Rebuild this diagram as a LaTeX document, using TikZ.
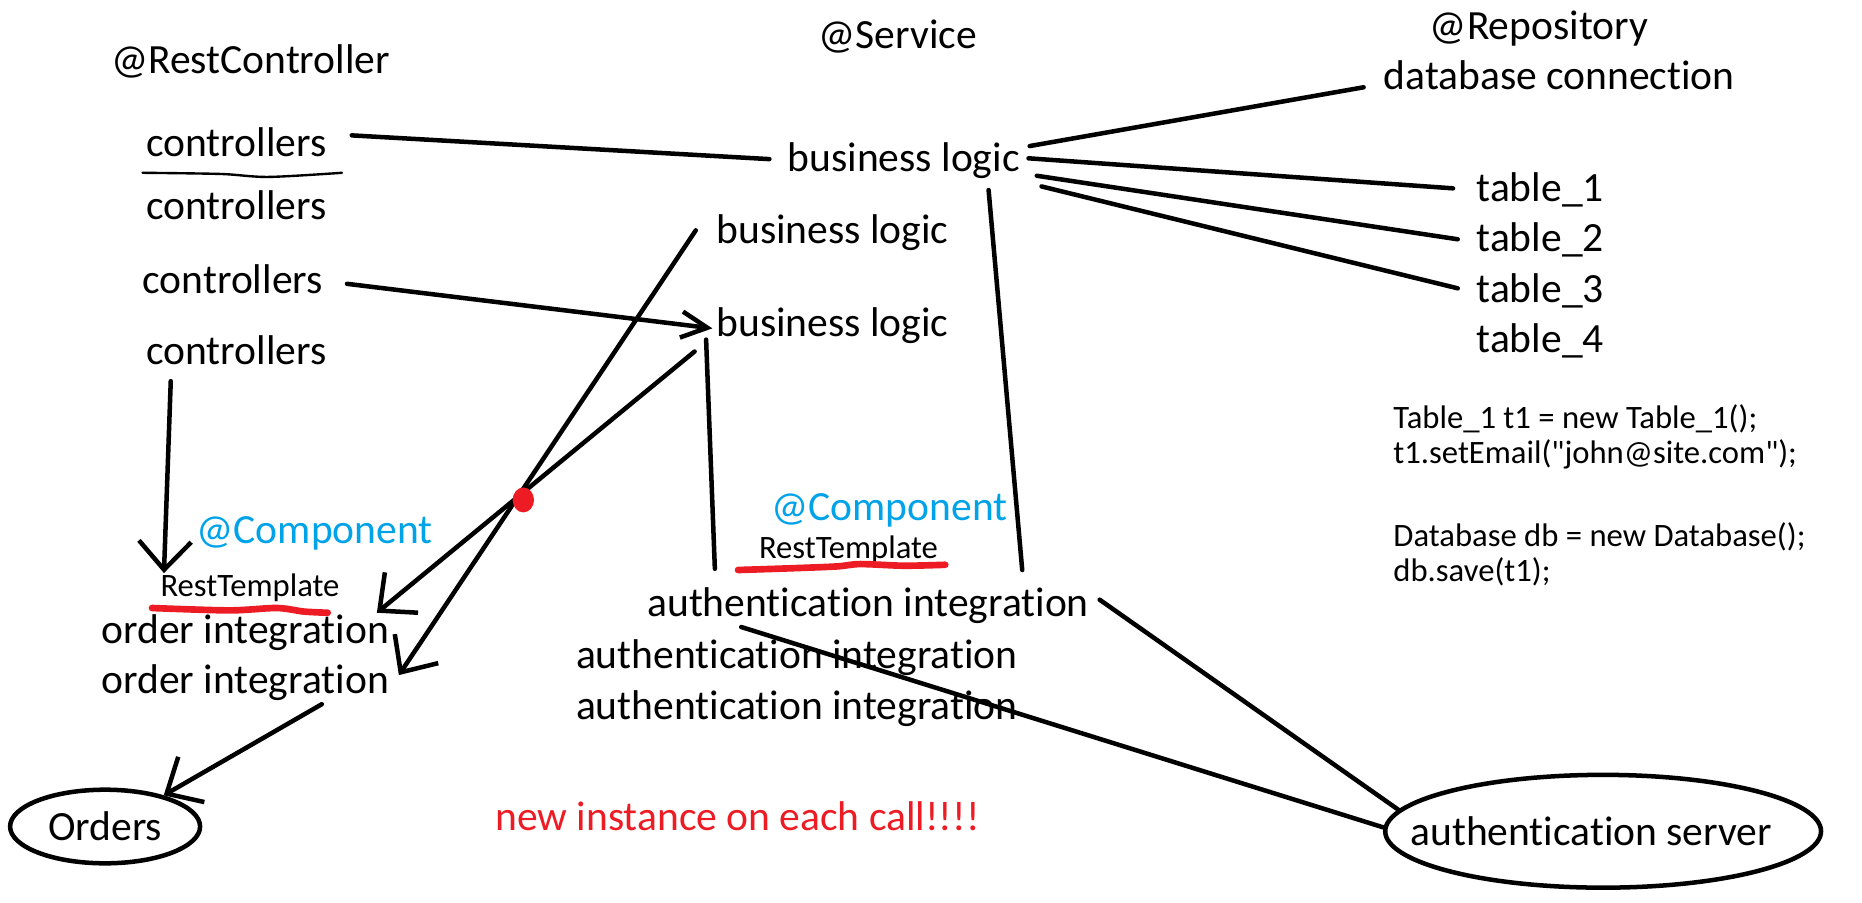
\documentclass[tikz,border=0pt]{standalone}
\usepackage{fontspec}
\setmainfont{Carlito}[Ligatures=NoCommon]
\newfontfamily\codefont{Carlito}[Ligatures=NoCommon]
\usetikzlibrary{arrows.meta,shapes.geometric}
\definecolor{paintred}{RGB}{237,28,36}
\definecolor{paintblue}{RGB}{0,162,232}

\begin{document}
\begin{tikzpicture}[x=0.5pt, y=-0.5pt, >={Straight Barb[length=11pt,width=11pt]},
    lbl/.style={inner sep=0pt, anchor=base, font=\fontsize{17.5}{21}\selectfont},
    small/.style={inner sep=0pt, anchor=base, font=\codefont\fontsize{13.75}{16}\selectfont},
    code/.style={small, anchor=base west},
    note/.style={lbl, text=paintblue},
    db/.style={draw, ellipse, line width=1.9pt, inner sep=0pt, font=\fontsize{17.5}{21}\selectfont},
    wire/.style={line width=1.9pt, line cap=round},
    sketch/.style={wire, -{Straight Barb[length=12pt,width=22pt]}},
    redmark/.style={paintred, line width=2.8pt, line cap=round}]
  \useasboundingbox (0,0) rectangle (1568,760);

  % headers
  \node[lbl] (restctl) at (211,62) {@RestController};
  \node[lbl] (service) at (756,41) {@Service};
  \node[lbl] (repo) at (1296,33) {@Repository};
  \node[lbl] (dbconn) at (1313,75) {database connection};

  % controllers
  \node[lbl] (ctrlA) at (199,132) {controllers};
  \node[lbl] (ctrlB) at (199,185) {controllers};
  \node[lbl] (ctrlC) at (196,247) {controllers};
  \node[lbl] (ctrlD) at (199,307) {controllers};
  \draw[line width=1pt, line cap=round] plot[smooth] coordinates {(120,145.5) (186,146.5) (226,149) (288,145.5)};

  % services
  \node[lbl] (logicA) at (761,144) {business logic};
  \node[lbl] (logicB) at (701,205) {business logic};
  \node[lbl] (logicC) at (701,283.5) {business logic};

  % tables
  \node[lbl] (tableA) at (1297,170) {table\_1};
  \node[lbl] (tableB) at (1297,212) {table\_2};
  \node[lbl] (tableC) at (1297,255) {table\_3};
  \node[lbl] (tableD) at (1297,297) {table\_4};

  \node[code] (codeA) at (1173,360.5) {Table\_1 t1 = new Table\_1();};
  \node[code] (codeB) at (1173,390) {t1.setEmail("john@site.com");};
  \node[code] (codeC) at (1173,460.5) {Database db = new Database();};
  \node[code] (codeD) at (1173,490) {db.save(t1);};

  % components
  \node[note] (compA) at (265,458) {@Component};
  \node[small] (restA) at (210.5,502) {RestTemplate};
  \draw[redmark] plot[smooth] coordinates {(128,512) (193,514) (233,512) (256,515) (276,516)};
  \node[lbl] (ordA) at (206.5,541.5) {order integration};
  \node[lbl] (ordB) at (206.5,584) {order integration};

  \node[note] (compB) at (749,438) {@Component};
  \node[small] (restB) at (714.5,470) {RestTemplate};
  \draw[redmark] plot[smooth] coordinates {(621.5,480) (664.6,478.6) (704.5,477) (724.5,475) (761,476.4) (796,475.6)};
  \node[lbl] (authA) at (731,519) {authentication integration};
  \node[lbl] (authB) at (671,562.6) {authentication integration};
  \node[lbl] (authC) at (671,606) {authentication integration};

  \node[db, minimum width=80pt, minimum height=31pt] (orders) at (88.5,696) {\makebox[0pt]{Orders}};
  \node[db, minimum width=183.5pt, minimum height=47.5pt] (authSrv) at (1350,700) {\makebox[0pt]{authentication server\hspace{10pt}}};
  \node[lbl, text=paintred] (warn) at (621,699) {new instance on each call!!!!};

  % connectors
  \draw[wire] ([shift={(21,-18)}]ctrlA.base east) -- ([shift={(-15,-10)}]logicA.base west);
  \draw[wire, ->] ([shift={(20,-8)}]ctrlC.base east) -- ([shift={(-3,-7)}]logicC.base west);
  \draw[sketch] ([shift={(-17,-11)}]logicB.base west) -- ([shift={(8,-15.5)}]ordB.base east);
  \draw[sketch] ([shift={(-18,12.5)}]logicC.base west) -- ([shift={(-10.5,-25.5)}]ordA.base east);
  \fill[paintred] (440.7,421) ellipse [x radius=9, y radius=10.5];
  \draw[wire] ([shift={(-8.3,2.5)}]logicC.base west) -- ([shift={(57.3,-40)}]authA.base west);
  \draw[wire] ([shift={(-26.6,16)}]logicA.base east) -- ([shift={(-56.5,-39)}]authA.base east);
  \draw[wire] ([shift={(8,-21)}]logicA.base east) -- ([shift={(-16.5,-1.5)}]dbconn.base west);
  \draw[wire] ([shift={(7,-10.7)}]logicA.base east) -- ([shift={(-19.5,-11.4)}]tableA.base west);
  \draw[wire] ([shift={(14,4)}]logicA.base east) -- ([shift={(-15.5,-10.5)}]tableB.base west);
  \draw[wire] ([shift={(18,13)}]logicA.base east) -- ([shift={(-15.5,-12.2)}]tableC.base west);
  \draw[sketch] ([shift={(21,14)}]ctrlD.base west) -- ([shift={(3.3,-19.4)}]restA.base west);
  \draw[sketch] ([shift={(64.5,9)}]ordB.base) -- (orders.28);
  \draw[wire] ([shift={(8.7,-14)}]authA.base east) -- (authSrv.174);
  \draw[wire] ([shift={(79.5,9)}]authA.base west) -- (authSrv.179);
\end{tikzpicture}
\end{document}
